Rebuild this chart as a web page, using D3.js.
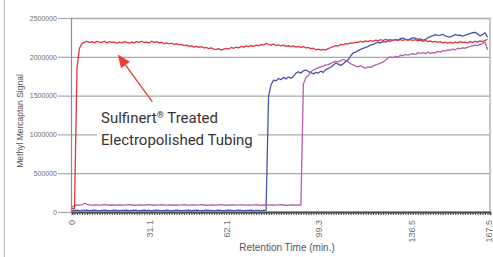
<!DOCTYPE html>
<html>
<head>
<meta charset="utf-8">
<script src="https://cdn.jsdelivr.net/npm/d3@7"></script>
<style>
  html, body { margin: 0; padding: 0; background: #fff; }
  svg { display: block; }
</style>
</head>
<body>
<div id="chart"></div>
<script>
(function () {
  'use strict';

  // --- Data (signal in thousands, one sample per minute) ---
  const X_TICK_LABELS = [0, 31.1, 62.1, 99.3, 136.5, 167.5];
  const Y_TICKS = [0, 500000, 1000000, 1500000, 2000000, 2500000];

  const blueSignal = [
    15, 20, 25, 18, 22, 20, 24, 19, 21, 23,
    20, 18, 22, 25, 21, 19, 20, 24, 22, 18,
    21, 20, 23, 19, 22, 25, 20, 18, 21, 24,
    20, 22, 19, 21, 23, 20, 18, 22, 24, 21,
    19, 20, 23, 22, 18, 21, 20, 24, 19, 22,
    25, 20, 18, 21, 23, 20, 22, 19, 21, 24,
    20, 18, 22, 23, 21, 19, 20, 24, 22, 18,
    21, 20, 23, 19, 22, 20, 18, 21, 22, 1490,
    1640, 1700, 1690, 1720, 1705, 1735, 1715, 1740, 1725, 1745,
    1790, 1805, 1790, 1820, 1830, 1810, 1795, 1780, 1800, 1790,
    1815, 1800, 1835, 1850, 1865, 1890, 1920, 1905, 1890, 1910,
    1940, 1960, 2010, 2050, 2060, 2080, 2095, 2110, 2120, 2135,
    2150, 2160, 2175, 2185, 2180, 2195, 2190, 2205, 2200, 2215,
    2220, 2210, 2235, 2240, 2225, 2215, 2230, 2245, 2240, 2225,
    2230, 2215, 2220, 2245, 2260, 2270, 2285, 2275, 2280, 2290,
    2270, 2260, 2255, 2270, 2285, 2275, 2280, 2265, 2280, 2290,
    2300, 2310, 2315, 2295, 2270, 2285, 2310, 2250
  ];

  const magentaSignal = [
    60, 85, 90, 88, 95, 110, 100, 92, 88, 90,
    92, 88, 90, 94, 91, 87, 90, 93, 89, 91,
    90, 88, 92, 95, 90, 87, 89, 92, 90, 88,
    91, 94, 90, 87, 89, 92, 95, 90, 88, 91,
    90, 87, 92, 89, 91, 94, 90, 88, 90, 92,
    89, 91, 95, 90, 87, 89, 92, 90, 88, 91,
    94, 90, 87, 89, 92, 90, 88, 91, 93, 90,
    88, 92, 89, 91, 94, 90, 87, 90, 92, 89,
    91, 90, 88, 92, 95, 90, 87, 89, 92, 90,
    88, 91, 90, 1650, 1730, 1760, 1810, 1830, 1845, 1860,
    1870, 1880, 1895, 1900, 1915, 1930, 1940, 1935, 1950, 1965,
    1955, 1935, 1910, 1895, 1880, 1870, 1885, 1865, 1855, 1870,
    1860, 1880, 1895, 1905, 1920, 1930, 1955, 1985, 2000, 1990,
    2005, 1995, 2020, 2015, 2030, 2020, 2035, 2040, 2030, 2050,
    2045, 2055, 2040, 2060, 2045, 2055, 2050, 2070, 2060, 2080,
    2075, 2090, 2085, 2100, 2090, 2110, 2105, 2115, 2110, 2125,
    2130, 2140, 2150, 2145, 2160, 2170, 2190, 2090
  ];

  const redSignal = [
    40, 45, 1850, 2110, 2170, 2185, 2200, 2185, 2195, 2180,
    2200, 2190, 2185, 2200, 2180, 2195, 2185, 2190, 2175, 2190,
    2180, 2195, 2185, 2175, 2190, 2180, 2195, 2185, 2200, 2185,
    2190, 2180, 2200, 2185, 2195, 2180, 2185, 2170, 2180, 2165,
    2175, 2160, 2170, 2155, 2160, 2145, 2150, 2135, 2140, 2125,
    2135, 2120, 2130, 2115, 2120, 2105, 2115, 2100, 2095, 2105,
    2085, 2100, 2110, 2100, 2120, 2110, 2125, 2115, 2135, 2125,
    2140, 2130, 2145, 2135, 2150, 2140, 2160, 2150, 2175, 2160,
    2150, 2165, 2145, 2155, 2140, 2150, 2135, 2145, 2130, 2140,
    2125, 2135, 2120, 2130, 2115, 2120, 2105, 2110, 2090, 2100,
    2085, 2095, 2090, 2105, 2120, 2130, 2145, 2140, 2160, 2155,
    2170, 2165, 2180, 2175, 2190, 2185, 2200, 2190, 2205, 2195,
    2210, 2200, 2215, 2205, 2220, 2210, 2225, 2215, 2220, 2210,
    2225, 2215, 2220, 2210, 2225, 2215, 2220, 2210, 2220, 2205,
    2215, 2200, 2210, 2195, 2205, 2190, 2200, 2185, 2195, 2180,
    2190, 2175, 2185, 2175, 2190, 2180, 2195, 2185, 2190, 2180,
    2195, 2185, 2200, 2190, 2205, 2195, 2210, 2225
  ];

  const COLORS = {
    red: '#e2353c',
    blue: '#4a55a8',
    magenta: '#b560b0',
    grid: '#a9a9a9',
    axis: '#8c8c8c',
    xAxis: '#4a4a4a',
    tickText: '#6e6e6e',
    title: '#555555',
    note: '#353535',
    arrow: '#e8402c',
    frame: '#bdbdbd'
  };

  const W = 493, H = 257;
  const plot = { left: 71, right: 490, top: 18, bottom: 212 };

  const svg = d3.select('#chart').append('svg')
    .attr('width', W).attr('height', H);

  const x = d3.scaleLinear().domain([0, 168]).range([72, plot.right]);
  const y = d3.scaleLinear().domain([0, 2500000]).range([plot.bottom, plot.top]);

  // outer frame (left edge only visible)
  svg.append('line')
    .attr('x1', 4.5).attr('x2', 4.5).attr('y1', 0).attr('y2', H)
    .attr('stroke', COLORS.frame).attr('stroke-width', 1.2);

  // Grid lines + y ticks
  const yGrid = svg.append('g')
    .attr('transform', `translate(${plot.left},0)`)
    .call(d3.axisLeft(y).tickValues(Y_TICKS).tickSize(-(plot.right - plot.left)).tickFormat(''));
  yGrid.select('.domain').remove();
  yGrid.selectAll('line').attr('stroke', COLORS.grid).attr('stroke-width', 1.3);

  const yAxis = svg.append('g')
    .attr('transform', `translate(${plot.left},0)`)
    .call(d3.axisLeft(y).tickValues(Y_TICKS).tickSize(13).tickPadding(1).tickFormat(d3.format('d')));
  yAxis.select('.domain').attr('stroke', COLORS.axis).attr('stroke-width', 1.2);
  yAxis.selectAll('.tick line').attr('stroke', COLORS.grid).attr('stroke-width', 1.2);
  yAxis.selectAll('text')
    .attr('fill', COLORS.tickText)
    .attr('font-size', '7px')
    .attr('font-family', '"Liberation Sans", Arial, sans-serif');

  // right border
  svg.append('line')
    .attr('x1', plot.right).attr('x2', plot.right)
    .attr('y1', plot.top).attr('y2', plot.bottom)
    .attr('stroke', COLORS.grid).attr('stroke-width', 1.3);

  // white box behind annotation
  svg.append('rect')
    .attr('x', 97).attr('y', 101).attr('width', 161).attr('height', 50)
    .attr('fill', '#fff');

  // Series
  const line = d3.line()
    .x((d, i) => x(i))
    .y(d => y(d * 1000));

  [[blueSignal, COLORS.blue], [magentaSignal, COLORS.magenta], [redSignal, COLORS.red]]
    .forEach(([data, color]) => {
      svg.append('path')
        .datum(data)
        .attr('fill', 'none')
        .attr('stroke', color)
        .attr('stroke-width', 1.3)
        .attr('stroke-linejoin', 'round')
        .attr('d', line);
    });

  // X axis: dense minute ticks
  const xMinor = svg.append('g')
    .attr('transform', `translate(0,${plot.bottom})`)
    .call(d3.axisBottom(x).tickValues(d3.range(0, 168)).tickSize(3).tickFormat(''));
  xMinor.select('.domain').attr('stroke', COLORS.xAxis).attr('stroke-width', 1.8);
  xMinor.selectAll('.tick line').attr('stroke', COLORS.xAxis).attr('stroke-width', 1);

  // X labels (rotated)
  const xLabels = svg.append('g');
  xLabels.selectAll('text')
    .data(X_TICK_LABELS)
    .join('text')
    .attr('transform', d => `translate(${x(d) + 3.2},220) rotate(-90)`)
    .attr('text-anchor', 'end')
    .attr('fill', COLORS.tickText)
    .attr('font-size', '9px')
    .attr('font-family', '"Liberation Sans", Arial, sans-serif')
    .text(d => d);

  // Axis titles
  svg.append('text')
    .attr('x', 287).attr('y', 251)
    .attr('text-anchor', 'middle')
    .attr('fill', COLORS.title)
    .attr('font-size', '10px')
    .attr('font-family', '"Liberation Sans", Arial, sans-serif')
    .text('Retention Time (min.)');

  svg.append('text')
    .attr('transform', 'translate(23,121) rotate(-90)')
    .attr('text-anchor', 'middle')
    .attr('fill', COLORS.title)
    .attr('font-size', '8.5px')
    .attr('font-family', '"Liberation Sans", Arial, sans-serif')
    .text('Methyl Mercaptan Signal');

  // Annotation
  const note = svg.append('text')
    .attr('fill', COLORS.note)
    .attr('font-size', '15px')
    .attr('font-family', 'Roboto, sans-serif');
  const l1 = note.append('tspan').attr('x', 101).attr('y', 122.5);
  l1.append('tspan').text('Sulfinert');
  l1.append('tspan').attr('font-size', '9px').attr('dy', -5).text('®');
  l1.append('tspan').attr('dy', 5).text(' Treated');
  note.append('tspan').attr('x', 101).attr('y', 145).text('Electropolished Tubing');

  // Arrow
  const tip = [x(18.4), y(2030000)];
  const tail = [x(32.3), y(1420000)];
  const ang = Math.atan2(tail[1] - tip[1], tail[0] - tip[0]);
  const headLen = 13, headW = 5.5;
  const bx = tip[0] + Math.cos(ang) * headLen, by = tip[1] + Math.sin(ang) * headLen;
  svg.append('line')
    .attr('x1', tail[0]).attr('y1', tail[1])
    .attr('x2', bx).attr('y2', by)
    .attr('stroke', COLORS.arrow).attr('stroke-width', 1.3);
  svg.append('path')
    .attr('d', `M${tip[0]},${tip[1]}` +
      `L${bx - Math.sin(ang) * headW},${by + Math.cos(ang) * headW}` +
      `L${bx + Math.sin(ang) * headW},${by - Math.cos(ang) * headW}Z`)
    .attr('fill', COLORS.arrow);
})();
</script>
</body>
</html>
